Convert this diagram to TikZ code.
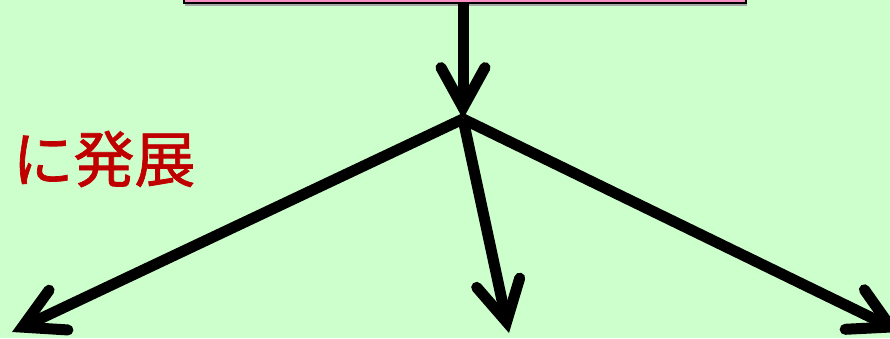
\documentclass[tikz,border=0pt]{standalone}
\usepackage{fontspec}
\newfontfamily\cjk[FakeBold=1.2]{Noto Sans CJK JP}
\usetikzlibrary{arrows.meta}
\definecolor{bggreen}{HTML}{CCFFCC}
\definecolor{boxpink}{HTML}{F68FC4}
\definecolor{txtred}{HTML}{C00000}
\tikzset{
  thickarrow/.style={line width=11pt, draw=black,
    -{Straight Barb[length=40pt,width=44pt,line cap=round,line join=miter]}},
}
\begin{document}
\begin{tikzpicture}[x=1pt,y=-1pt]
\useasboundingbox (0,0) rectangle (890,338);
\clip (0,0) rectangle (890,338);
\fill[bggreen] (0,0) rectangle (890,338);
% box with shadow
\fill[gray!70] (185,-40) rectangle (747,6);
\node[draw=black, line width=1.6pt, fill=boxpink, minimum width=562pt, minimum height=44pt, inner sep=0pt, anchor=south west] (box) at (183,4) {};
\coordinate (hub) at (463,119);
\coordinate (left) at (12,332);
\coordinate (mid) at (509,333);
\coordinate (right) at (901,332);
\draw[thickarrow] (box.south -| hub) -- (hub);
\draw[thickarrow] (hub) -- (left);
\draw[thickarrow] (hub) -- (mid);
\draw[thickarrow] (hub) -- (right);
\node[text=txtred, font=\cjk\fontsize{61pt}{63pt}\selectfont, inner sep=0pt] (label) at (104,159) {に発展};
\end{tikzpicture}
\end{document}
